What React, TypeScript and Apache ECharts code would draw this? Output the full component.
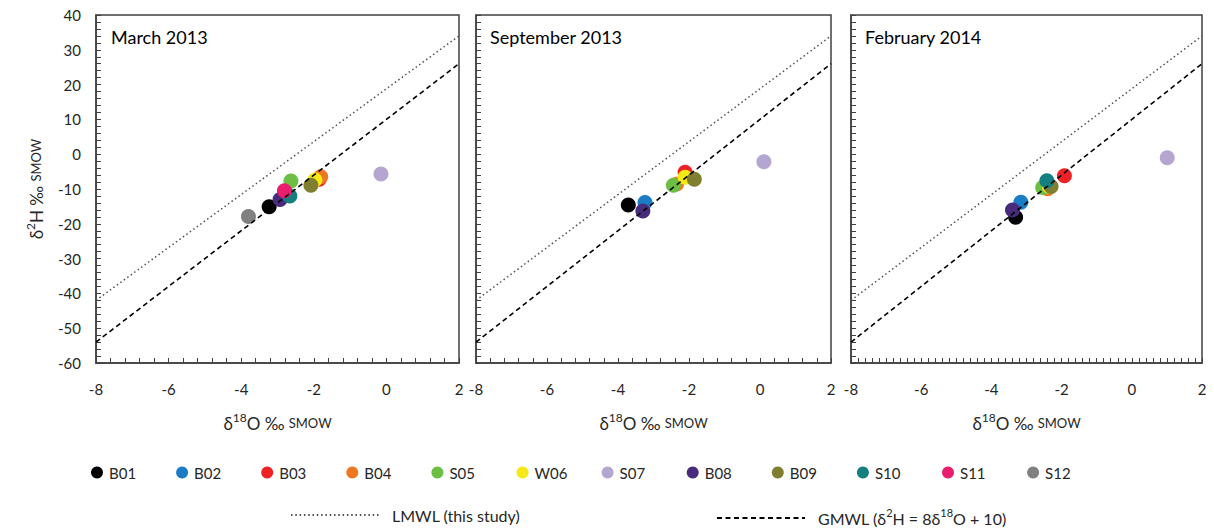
import React, { useEffect, useRef } from "react";
import * as echarts from "echarts";

const stations = ["B01", "B02", "B03", "B04", "S05", "W06", "S07", "B08", "B09", "S10", "S11", "S12"];
const colors = ["#000000", "#1b7dc4", "#ee2224", "#ef7722", "#6cbe45", "#f5ea14", "#b4a6d0", "#482b7c", "#7f7f2f", "#137f7f", "#ea1e6e", "#808080"];

const panelTitles = ["March 2013", "September 2013", "February 2014"];

// δ18O / δ2H values per station (null = not sampled)
const mar2013X = [-3.23, -2.72, -1.85, -1.81, -2.63, -1.97, -0.15, -2.93, -2.08, -2.66, -2.81, -3.8];
const mar2013Y = [-15.1, -11.6, -7.2, -6.5, -7.7, -7.4, -5.7, -13.0, -8.9, -12.0, -10.5, -17.9];
const sep2013X = [-3.71, -3.24, -2.11, -2.35, -2.44, -2.11, 0.11, -3.3, -1.85, null, null, null];
const sep2013Y = [-14.6, -13.9, -5.2, -8.6, -8.9, -6.6, -2.2, -16.3, -7.2, null, null, null];
const feb2014X = [-3.31, -3.16, -1.92, -2.4, -2.54, -2.35, 1.01, -3.4, -2.3, -2.42, null, null];
const feb2014Y = [-18.1, -13.8, -6.2, -9.9, -9.6, -9.2, -1.0, -16.0, -9.3, -7.6, null, null];

const panelX = [mar2013X, sep2013X, feb2014X];
const panelY = [mar2013Y, sep2013Y, feb2014Y];

// reference lines: end points at δ18O = -8 and 2
const lineX = [-8, 2];
const lmwlY = [-42, 34];
const gmwlY = [-54, 26];

const xTicks = { min: -8, max: 2, interval: 2 };
const yTicks = { min: -60, max: 40, interval: 10 };

const FONT = "Lato, 'Open Sans', sans-serif";
const TXT = "#262626";
const AXIS = "#404040";

const LMWL = "LMWL (this study)";
const GMWL = "GMWL (δ2H = 8δ18O + 10)";

export default function App() {
  const ref = useRef<HTMLDivElement>(null);
  useEffect(() => {
    if (!ref.current) return;
    const chart = echarts.init(ref.current, null, { renderer: "svg" });
    const grids = [
      { left: 96, top: 15, width: 363, height: 348 },
      { left: 476, top: 15, width: 355, height: 348 },
      { left: 851, top: 15, width: 351, height: 348 },
    ].map((g) => ({ ...g, show: true, borderColor: AXIS, borderWidth: 1.5, backgroundColor: "transparent" }));

    const richAxis = {
      a: { fontSize: 17, fontFamily: FONT, color: TXT, lineHeight: 24 },
      s: { fontSize: 12, fontFamily: FONT, color: TXT, lineHeight: 24, verticalAlign: "top" as const },
      c: { fontSize: 13, fontFamily: FONT, color: TXT, lineHeight: 24 },
    };
    const richLegend = {
      a: { fontSize: 16, fontFamily: FONT, color: TXT, lineHeight: 22 },
      s: { fontSize: 11, fontFamily: FONT, color: TXT, lineHeight: 22, verticalAlign: "top" as const },
    };

    const xAxes = [0, 1, 2].map((i) => ({
      type: "value",
      gridIndex: i,
      ...xTicks,
      axisLine: { show: true, onZero: false, lineStyle: { color: AXIS, width: 1.5 } },
      axisTick: { show: true, inside: true, length: 5, lineStyle: { color: AXIS } },
      minorTick: { show: true, splitNumber: i === 2 ? 10 : 5, length: 5, lineStyle: { color: AXIS } },
      splitLine: { show: false },
      axisLabel: { margin: 18, fontSize: 15, color: TXT, fontFamily: FONT },
      name: "{a|δ}{s|18}{a|O ‰ }{c|SMOW}",
      nameLocation: "middle",
      nameGap: 48,
      nameTextStyle: { rich: richAxis },
    }));

    const yAxes = [0, 1, 2].map((i) => ({
      type: "value",
      gridIndex: i,
      ...yTicks,
      axisLine: { show: true, onZero: false, lineStyle: { color: AXIS, width: 1.5 } },
      axisTick: { show: true, inside: true, length: 5, lineStyle: { color: AXIS } },
      minorTick: { show: true, splitNumber: 5, length: 5, lineStyle: { color: AXIS } },
      splitLine: { show: false },
      axisLabel: { show: i === 0, margin: 15, fontSize: 15, color: TXT, fontFamily: FONT },
      name: i === 0 ? "{a|δ}{s|2}{a|H ‰ }{c|SMOW}" : "",
      nameLocation: "middle",
      nameGap: 48,
      nameTextStyle: { rich: richAxis },
    }));

    const series: any[] = [];
    for (let p = 0; p < 3; p++) {
      stations.forEach((s, k) => {
        const x = panelX[p][k];
        const y = panelY[p][k];
        series.push({
          type: "scatter",
          name: s,
          xAxisIndex: p,
          yAxisIndex: p,
          symbol: "circle",
          symbolSize: 15,
          itemStyle: { color: colors[k], opacity: 1 },
          data: x === null || y === null ? [] : [[x, y]],
          z: 2,
        });
      });
      series.push({
        type: "line",
        name: LMWL,
        xAxisIndex: p,
        yAxisIndex: p,
        symbol: "none",
        showSymbol: false,
        lineStyle: { color: "#505050", width: 1.5, type: [1.5, 2.8] },
        data: lineX.map((x, j) => [x, lmwlY[j]]),
        z: 5,
      });
      series.push({
        type: "line",
        name: GMWL,
        xAxisIndex: p,
        yAxisIndex: p,
        symbol: "none",
        showSymbol: false,
        lineStyle: { color: "#000000", width: 1.6, type: [5, 3.5] },
        data: lineX.map((x, j) => [x, gmwlY[j]]),
        z: 5,
      });
    }

    const legends: any[] = stations.map((s, k) => ({
      data: [s],
      left: 91 + k * 85.1,
      top: 465,
      icon: "circle",
      itemWidth: 12,
      itemHeight: 12,
      padding: 0,
      textStyle: { fontSize: 15, color: TXT, fontFamily: FONT, padding: [0, 0, 0, 1] },
    }));
    const lineLegendItem = { color: "rgba(0,0,0,0)", borderWidth: 0, opacity: 0 };
    legends.push({
      data: [LMWL],
      left: 290,
      top: 507,
      itemWidth: 88,
      itemHeight: 12,
      padding: 0,
      itemStyle: lineLegendItem,
      textStyle: { fontSize: 16, color: TXT, fontFamily: FONT, padding: [0, 0, 0, 8] },
    });
    legends.push({
      data: [GMWL],
      left: 716,
      top: 507,
      itemWidth: 88,
      itemHeight: 12,
      padding: 0,
      itemStyle: lineLegendItem,
      formatter: () => "{a|GMWL (δ}{s|2}{a|H = 8δ}{s|18}{a|O + 10)}",
      textStyle: { fontSize: 16, color: TXT, fontFamily: FONT, padding: [0, 0, 0, 8], rich: richLegend },
    });

    chart.setOption({
      animation: false,
      backgroundColor: "#ffffff",
      title: panelTitles.map((t, i) => ({
        text: t,
        left: [111, 490, 865][i],
        top: 28,
        padding: 0,
        textStyle: { fontSize: 18, fontWeight: "normal", color: "#000", fontFamily: FONT },
      })),
      grid: grids,
      xAxis: xAxes,
      yAxis: yAxes,
      legend: legends,
      series,
    });
    return () => chart.dispose();
  }, []);
  return <div ref={ref} style={{ position: "absolute", left: 0, top: 0, width: 1214, height: 531 }} />;
}
